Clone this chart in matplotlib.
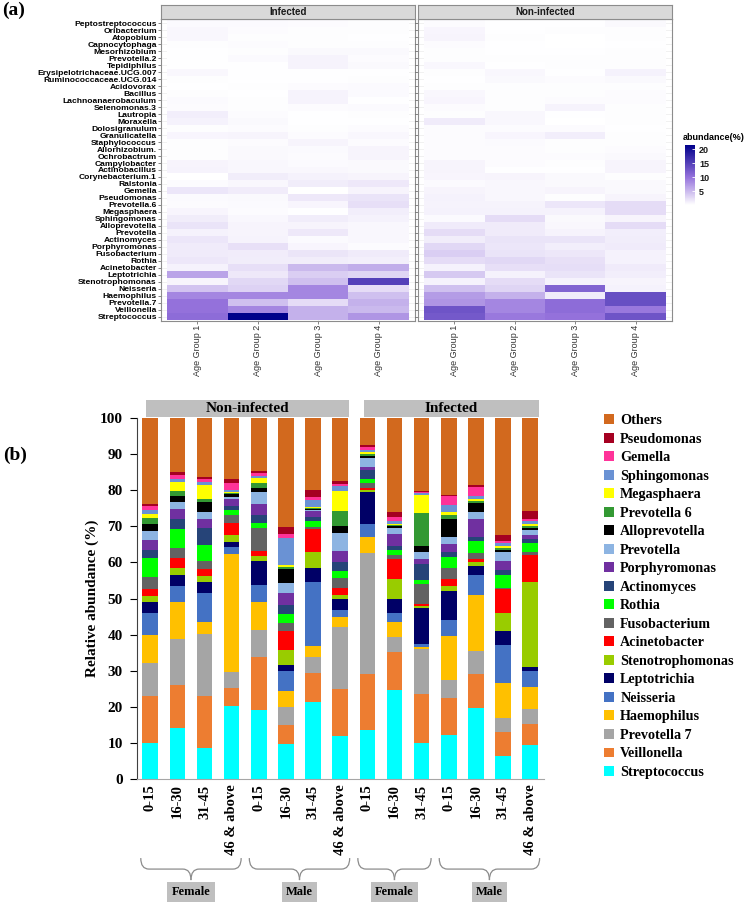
import numpy as np
import matplotlib.pyplot as plt
from matplotlib.colors import LinearSegmentedColormap
from matplotlib.patches import Rectangle, PathPatch
from matplotlib.path import Path
from matplotlib.transforms import blended_transform_factory

# ---------------- (a) heatmap data, abundance (%) ----------------
genera = ['Peptostreptococcus', 'Oribacterium', 'Atopobium', 'Capnocytophaga',
          'Mesorhizobium', 'Prevotella.2', 'Tepidiphilus', 'Erysipelotrichaceae.UCG.007',
          'Ruminococcaceae.UCG.014', 'Acidovorax', 'Bacillus', 'Lachnoanaerobaculum',
          'Selenomonas.3', 'Lautropia', 'Moraxella', 'Dolosigranulum', 'Granulicatella',
          'Staphylococcus', 'Allorhizobium.', 'Ochrobactrum', 'Campylobacter',
          'Actinobacillus', 'Corynebacterium.1', 'Ralstonia', 'Gemella', 'Pseudomonas',
          'Prevotella.6', 'Megasphaera', 'Sphingomonas', 'Alloprevotella', 'Prevotella',
          'Actinomyces', 'Porphyromonas', 'Fusobacterium', 'Rothia', 'Acinetobacter',
          'Leptotrichia', 'Stenotrophomonas', 'Neisseria', 'Haemophilus', 'Prevotella.7',
          'Veillonella', 'Streptococcus']
age_groups = ['Age Group 1', 'Age Group 2', 'Age Group 3', 'Age Group 4']

# one row per genus (same order as genera), columns = age group 1..4
infected_abund = [
    [0.4, 0.4, 0.3, 0.2], [0.6, 0.3, 0.2, 0.2], [0.6, 0.2, 0.2, 0.1], [0.2, 0.3, 0.2, 0.2],
    [0.1, 0.2, 0.5, 0.5], [0.1, 0.4, 0.9, 0.3], [0.1, 0.1, 0.9, 0.5], [0.6, 0.1, 0.1, 0.1],
    [0.2, 0.1, 0.1, 0.2], [0.1, 0.2, 0.3, 0.4], [0.2, 0.1, 0.9, 0.4], [0.4, 0.2, 0.9, 0.1],
    [0.3, 0.2, 0.3, 0.4], [1.2, 0.3, 0.1, 0.2], [1.0, 0.5, 0.1, 0.1], [0.2, 0.3, 0.2, 0.3],
    [0.7, 0.8, 0.3, 0.6], [0.2, 0.3, 0.8, 0.3], [0.2, 0.5, 0.4, 0.8], [0.2, 0.5, 0.3, 0.8],
    [0.8, 0.6, 0.4, 0.5], [0.9, 0.6, 0.6, 0.5], [0.0, 1.3, 1.0, 0.8], [0.3, 0.6, 1.3, 1.6],
    [1.8, 1.4, 0.0, 0.8], [0.4, 0.5, 1.6, 2.0], [0.3, 0.4, 0.7, 2.3], [0.7, 0.3, 0.1, 1.2],
    [1.3, 0.6, 1.3, 1.0], [2.0, 0.8, 0.8, 0.6], [1.0, 0.8, 1.6, 0.6], [1.8, 0.9, 0.4, 0.6],
    [1.5, 2.2, 0.7, 0.3], [1.5, 1.4, 1.9, 1.5], [1.7, 1.3, 1.3, 1.1], [1.0, 2.3, 5.0, 5.8],
    [6.5, 1.6, 3.5, 3.0], [0.8, 2.8, 4.5, 15.0], [4.2, 3.2, 8.5, 2.5], [8.5, 8.5, 8.5, 4.5],
    [10.0, 4.5, 2.5, 5.5], [10.0, 8.5, 5.5, 5.0], [10.5, 21.5, 5.5, 7.5]]
noninfected_abund = [
    [0.3, 0.1, 0.1, 0.5], [0.7, 0.1, 0.2, 0.2], [0.8, 0.2, 0.0, 0.2], [0.3, 0.1, 0.0, 0.1],
    [0.2, 0.1, 0.1, 0.2], [0.2, 0.2, 0.2, 0.2], [0.6, 0.1, 0.2, 0.2], [0.2, 0.6, 0.1, 1.0],
    [0.1, 0.5, 0.3, 0.5], [0.2, 0.2, 0.2, 0.2], [0.6, 0.2, 0.2, 0.3], [0.7, 0.2, 0.3, 0.3],
    [0.3, 0.2, 0.9, 0.2], [0.2, 0.6, 0.1, 0.2], [1.5, 0.6, 0.0, 0.2], [0.3, 0.3, 0.3, 0.1],
    [0.3, 0.7, 1.2, 0.2], [0.3, 0.4, 0.2, 0.2], [0.3, 0.3, 0.2, 0.3], [0.3, 0.3, 0.3, 0.5],
    [0.8, 0.3, 0.2, 0.8], [0.8, 0.1, 0.1, 0.8], [0.7, 0.8, 0.5, 0.2], [0.4, 0.6, 0.5, 0.5],
    [0.8, 0.6, 0.8, 0.5], [1.0, 0.6, 0.2, 0.8], [0.9, 0.9, 1.8, 2.5], [1.0, 1.0, 1.0, 2.5],
    [0.4, 2.5, 0.5, 0.8], [1.5, 1.5, 0.6, 2.5], [2.5, 1.5, 0.9, 1.2], [1.3, 2.0, 2.0, 1.3],
    [2.8, 1.8, 1.2, 1.5], [3.5, 2.0, 1.7, 1.0], [2.5, 2.8, 2.2, 1.0], [1.0, 2.3, 2.4, 1.5],
    [3.8, 1.0, 2.0, 1.2], [1.0, 2.5, 1.0, 0.8], [4.5, 3.0, 11.5, 1.0], [7.0, 5.5, 1.5, 13.5],
    [7.5, 8.5, 10.5, 13.5], [13.0, 8.5, 10.5, 9.5], [12.5, 9.5, 10.0, 13.0]]

# ---------------- (b) stacked bar data, relative abundance (%) ----------------
ages = ['0-15', '16-30', '31-45', '46 & above', '0-15', '16-30', '31-45', '46 & above',
        '0-15', '16-30', '31-45', '0-15', '16-30', '31-45', '46 & above']
sex_groups = [('Female', 0, 3), ('Male', 4, 7), ('Female', 8, 10), ('Male', 11, 14)]
status_groups = [('Non-infected', 0, 7), ('Infected', 8, 14)]

streptococcus = [10.1, 14.0, 8.5, 20.2, 19.1, 9.7, 21.4, 12.0, 13.5, 24.7, 10.0, 12.3, 19.7, 6.3, 9.3]
veillonella = [12.9, 12.0, 14.5, 5.1, 14.8, 5.3, 8.1, 12.8, 15.5, 10.6, 13.5, 10.2, 9.3, 6.7, 6.0]
prevotella7 = [9.0, 12.9, 17.2, 4.4, 7.4, 5.0, 4.4, 17.2, 33.5, 4.0, 12.5, 5.0, 6.5, 4.0, 4.0]
haemophilus = [7.9, 10.2, 3.4, 32.7, 7.8, 4.4, 2.9, 3.0, 4.5, 4.2, 0.5, 12.0, 15.5, 9.5, 6.2]
neisseria = [6.2, 4.4, 8.0, 2.0, 4.6, 5.6, 17.7, 1.8, 3.5, 2.5, 1.0, 4.5, 5.5, 10.5, 4.5]
leptotrichia = [2.8, 3.0, 3.1, 1.2, 6.8, 1.6, 4.0, 3.1, 9.0, 4.0, 10.0, 8.0, 2.5, 4.0, 1.0]
stenotrophomonas = [1.9, 2.0, 1.4, 2.1, 1.3, 4.1, 4.3, 1.1, 0.5, 5.5, 0.5, 1.5, 1.0, 5.0, 23.5]
acinetobacter = [1.8, 2.6, 2.1, 3.2, 1.4, 5.3, 6.5, 1.8, 0.5, 5.5, 0.5, 2.0, 1.0, 6.5, 7.5]
fusobacterium = [3.4, 2.8, 2.3, 2.1, 6.2, 2.3, 0.6, 2.9, 1.5, 1.0, 5.5, 3.0, 1.5, 0.5, 0.8]
rothia = [5.1, 5.3, 4.3, 1.4, 1.6, 2.3, 1.6, 1.8, 1.0, 1.5, 1.0, 3.0, 3.5, 3.5, 2.7]
actinomyces = [2.3, 2.8, 4.7, 1.1, 2.0, 2.6, 1.2, 2.6, 2.5, 1.0, 4.5, 1.5, 1.0, 1.5, 1.0]
porphyromonas = [2.7, 2.8, 2.5, 2.1, 3.2, 3.2, 1.6, 3.1, 1.0, 3.5, 1.5, 2.0, 5.0, 2.5, 1.0]
prevotella = [2.5, 1.8, 2.0, 0.6, 3.4, 2.8, 0.3, 4.9, 2.5, 1.5, 2.0, 2.0, 2.0, 2.5, 1.5]
alloprevotella = [1.9, 1.8, 2.8, 0.8, 1.1, 3.9, 0.2, 2.1, 0.5, 0.5, 1.5, 5.0, 2.5, 0.5, 0.5]
prevotella6 = [1.8, 1.5, 0.9, 0.2, 1.4, 0.7, 0.4, 4.1, 0.5, 0.3, 9.3, 1.0, 0.5, 0.5, 0.5]
megasphaera = [1.2, 2.5, 3.8, 0.2, 1.3, 0.5, 0.2, 5.5, 0.5, 0.3, 5.0, 1.0, 0.5, 0.5, 0.5]
sphingomonas = [0.9, 0.8, 0.8, 0.7, 0.6, 7.4, 1.9, 1.4, 0.5, 0.9, 0.4, 2.0, 1.0, 1.0, 1.0]
gemella = [1.1, 1.0, 0.7, 2.0, 0.9, 1.3, 0.7, 0.5, 1.0, 1.0, 0.3, 2.5, 2.5, 0.5, 0.5]
pseudomonas = [0.7, 0.8, 0.7, 0.9, 0.5, 1.9, 2.1, 0.8, 0.5, 1.5, 0.3, 0.3, 0.5, 1.5, 2.3]
others = [23.8, 15.0, 16.3, 17.0, 14.6, 30.1, 19.9, 17.5, 7.5, 26.0, 20.2, 21.2, 18.5, 32.5, 25.7]

# bottom to top of the stack
series = [
    ('Streptococcus', streptococcus, '#00FFFF'),
    ('Veillonella', veillonella, '#ED7D31'),
    ('Prevotella 7', prevotella7, '#A5A5A5'),
    ('Haemophilus', haemophilus, '#FFC000'),
    ('Neisseria', neisseria, '#4472C4'),
    ('Leptotrichia', leptotrichia, '#000066'),
    ('Stenotrophomonas', stenotrophomonas, '#99CC00'),
    ('Acinetobacter', acinetobacter, '#FF0000'),
    ('Fusobacterium', fusobacterium, '#636363'),
    ('Rothia', rothia, '#00FF00'),
    ('Actinomyces', actinomyces, '#264478'),
    ('Porphyromonas', porphyromonas, '#7030A0'),
    ('Prevotella', prevotella, '#8DB4E2'),
    ('Alloprevotella', alloprevotella, '#000000'),
    ('Prevotella 6', prevotella6, '#339933'),
    ('Megasphaera', megasphaera, '#FFFF00'),
    ('Sphingomonas', sphingomonas, '#6A92D4'),
    ('Gemella', gemella, '#FF3399'),
    ('Pseudomonas', pseudomonas, '#A50021'),
    ('Others', others, '#D2691E'),
]

W, H = 745, 907
SANS = ['Liberation Sans', 'DejaVu Sans']
SERIF = ['Liberation Serif', 'DejaVu Serif']

fig = plt.figure(figsize=(W / 100, H / 100), dpi=100)


def fx(px):
    return px / W


def fy(py):
    return 1 - py / H


# ---------------- panel (a) ----------------
cmap = LinearSegmentedColormap.from_list(
    'abund', [(0, 'white'), (0.47, '#9370DB'), (1, '#00008B')])
vmax = 21.5
n = len(genera)
mesh = None
for i, (title, data, left) in enumerate([('Infected', infected_abund, 161),
                                         ('Non-infected', noninfected_abund, 418)]):
    ax = fig.add_axes([fx(left), fy(320.7), 254 / W, 301.4 / H])
    arr = np.array(data)[::-1]
    ax.set_axisbelow(True)
    ax.grid(True, color='#EBEBEB', lw=0.5)
    mesh = ax.pcolormesh(np.arange(0.5, 5), np.arange(0.5, n + 1), arr,
                         cmap=cmap, vmin=0, vmax=vmax)
    ax.set_xlim(0.4, 4.6)
    ax.set_ylim(0.4, n + 0.6)
    ax.set_xticks(range(1, 5))
    ax.set_xticklabels(age_groups, rotation=90, fontsize=6.5, family=SANS, color='#333333')
    ax.set_yticks(range(1, n + 1))
    if i == 0:
        ax.set_yticklabels(genera[::-1], fontsize=6.1, family=SANS, weight='bold')
    else:
        ax.set_yticklabels([])
    ax.tick_params(length=2, width=0.5, color='#555555', pad=1)
    for s in ax.spines.values():
        s.set_color('#8C8C8C')
        s.set_linewidth(0.8)

    sax = fig.add_axes([fx(left), fy(19.3), 254 / W, 14.3 / H])
    sax.set_facecolor('#D9D9D9')
    sax.set_xticks([])
    sax.set_yticks([])
    for s in sax.spines.values():
        s.set_color('#8C8C8C')
        s.set_linewidth(0.8)
    sax.text(0.5, 0.5, title, ha='center', va='center', fontsize=7,
             family=SANS, weight='bold', color='#1A1A1A', transform=sax.transAxes)

cax = fig.add_axes([fx(685), fy(205), 10 / W, 60 / H])
cb = fig.colorbar(mesh, cax=cax, ticks=[5, 10, 15, 20])
cb.outline.set_visible(False)
cax.tick_params(length=2, width=0.6, color='white', direction='in', pad=3)
for t in cax.get_yticklabels():
    t.set_fontsize(6.5)
    t.set_family(SANS)
    t.set_weight('bold')
    t.set_color('#1A1A1A')
fig.text(fx(683), fy(137), 'abundance(%)', fontsize=6.5, family=SANS,
         weight='bold', va='center', ha='left')

fig.text(fx(2), fy(10), '(a)', fontsize=14, family=SERIF, weight='bold', va='center')

# ---------------- panel (b) ----------------
bx = fig.add_axes([fx(136.7), fy(779), 407 / W, 361 / H])
x = np.arange(len(ages))
bottom = np.zeros(len(ages))
handles = []
for name, vals, color in series:
    h = bx.bar(x, vals, 0.575, bottom=bottom, color=color, label=name)
    bottom += np.array(vals)
    handles.append(h)

bx.set_xlim(-0.5, len(ages) - 0.5)
bx.set_ylim(0, 100)
bx.set_yticks(range(0, 101, 10))
bx.set_xticks(x)
bx.set_xticklabels(ages, rotation=90, fontsize=10.5, family=SERIF, weight='bold')
for t in bx.get_yticklabels():
    t.set_fontsize(11)
    t.set_family(SERIF)
    t.set_weight('bold')
bx.tick_params(axis='x', length=0, pad=4)
bx.tick_params(axis='y', length=5, width=0.8, pad=5)
bx.spines['top'].set_visible(False)
bx.spines['right'].set_visible(False)
bx.spines['left'].set_color('#404040')
bx.spines['bottom'].set_color('#A6A6A6')
bx.set_ylabel('Relative abundance (%)', fontsize=11, family=SERIF, weight='bold')
bx.yaxis.set_label_coords(-0.093, 0.5)

tr = blended_transform_factory(bx.transData, bx.transAxes)

# strips above bars
for label, lo, hi in status_groups:
    x0, x1 = lo - 0.14, hi + 0.34
    bx.add_patch(Rectangle((x0, 1.003), x1 - x0, 0.047, transform=tr, clip_on=False,
                           facecolor='#BFBFBF', edgecolor='none'))
    bx.text((x0 + x1) / 2, 1.027, label, transform=tr, ha='center', va='center',
            fontsize=11, family=SERIF, weight='bold')


def brace(x0, x1, ytop, ybot, d=0.3):
    xm = (x0 + x1) / 2
    ym = (ytop + ybot) / 2
    for a, b in [(x0, xm), (x1, xm)]:
        s = 1 if b > a else -1
        verts = [(a, ytop), (a, ym), (a + s * d, ym), (b - s * d, ym), (b, ym), (b, ybot)]
        codes = [Path.MOVETO, Path.CURVE3, Path.CURVE3, Path.LINETO, Path.CURVE3, Path.CURVE3]
        bx.add_patch(PathPatch(Path(verts, codes), transform=tr, clip_on=False,
                               fill=False, edgecolor='#8C8C8C', lw=0.9))


for label, lo, hi in sex_groups:
    brace(lo - 0.35, hi + 0.35, -0.219, -0.28)
    bx.text((lo + hi) / 2, -0.313, label, transform=tr, ha='center', va='center',
            fontsize=9, family=SERIF, weight='bold',
            bbox=dict(boxstyle='square,pad=0.35', facecolor='#BFBFBF', edgecolor='none'))

bx.legend(handles[::-1], [s[0] for s in series][::-1], loc='upper left',
          bbox_to_anchor=(fx(604), fy(414)), bbox_transform=fig.transFigure,
          frameon=False, prop={'family': SERIF, 'weight': 'bold', 'size': 10.2},
          handlelength=0.7, handleheight=0.7, handletextpad=0.45,
          labelspacing=0.39, borderaxespad=0, borderpad=0)

fig.text(fx(3), fy(455), '(b)', fontsize=14, family=SERIF, weight='bold', va='center')

fig.savefig('out.png', dpi=100)
